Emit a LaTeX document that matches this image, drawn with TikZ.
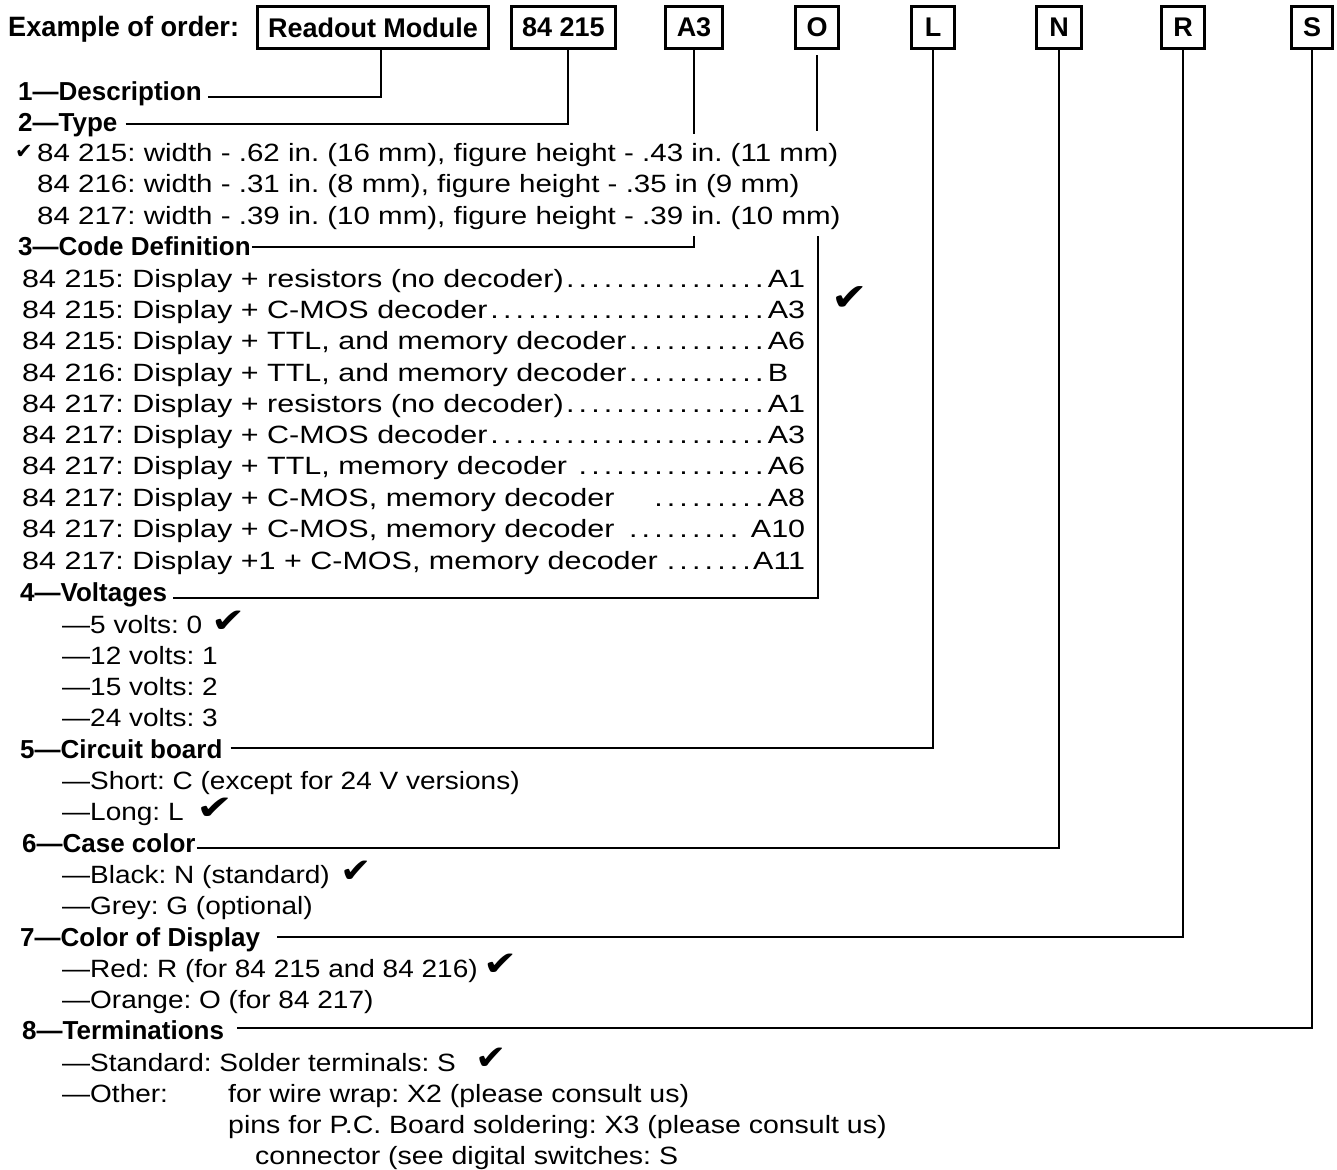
\documentclass[tikz,border=0pt]{standalone}
\usepackage{fontspec}
\setmainfont{Liberation Sans}
\newfontfamily\ckfont{DejaVu Sans}
\usetikzlibrary{calc}
\frenchspacing
\newcommand\sx[2]{\scalebox{#1}[1]{#2}}
\newcommand\cdl[2]{\makebox[783pt][l]{\sx{1.22}{#1}\leaders\hbox to 12.6pt{\hss\sx{1.22}{.}\hss}\hfill\sx{1.22}{#2}}}
\begin{document}
\begin{tikzpicture}[x=1pt,y=-1pt,
  box/.style={draw, line width=3.2pt, minimum height=42pt, inner sep=0pt, font=\fontsize{27}{30}\selectfont\bfseries},
  hd/.style={anchor=base west, inner sep=0pt, font=\fontsize{26}{30}\selectfont\bfseries},
  bd/.style={anchor=base west, inner sep=0pt, font=\fontsize{25}{30}\selectfont},
  tick/.style={inner sep=0pt, font=\ckfont\fontsize{34}{34}\selectfont},
  conn/.style={line width=2.8pt}]
\fill[white] (0,0) rectangle (1337,1169);
\useasboundingbox (0,0) rectangle (1337,1169);
% top row
\node[anchor=base west, inner sep=0pt, font=\fontsize{28}{30}\selectfont\bfseries] (ex) at (8,37) {\sx{0.97}{Example of order:}};
\node[box, minimum width=231pt] (rm) at (373,27.5) {Readout Module};
\node[box, minimum width=104pt] (ty) at (563.5,27.5) {84 215};
\node[box, minimum width=57pt] (a3) at (694,27.5) {A3};
\node[box, minimum width=43pt] (o) at (817,27.5) {O};
\node[box, minimum width=43pt] (l) at (933,27.5) {L};
\node[box, minimum width=45pt] (n) at (1059,27.5) {N};
\node[box, minimum width=43pt] (r) at (1183,27.5) {R};
\node[box, minimum width=41pt] (s) at (1312,27.5) {S};
% headings
\node[hd] (h1) at (18,101) {1—Description};
\node[hd] (h2) at (18,132) {2—Type};
\node[hd] (h3) at (18,255) {3—Code Definition};
\node[hd] (h4) at (20,601) {4—Voltages};
\node[hd] (h5) at (20,758) {5—Circuit board};
\node[hd] (h6) at (22,852) {6—Case color};
\node[hd] (h7) at (20,946) {7—Color of Display};
\node[hd] (h8) at (22,1039) {8—Terminations};
% type lines
\node[bd] (t1) at (37,162) {\sx{1.18}{84 215: width - .62 in. (16 mm), figure height - .43 in. (11 mm)}};
\node[bd] (t2) at (37,193) {\sx{1.18}{84 216: width - .31 in. (8 mm), figure height - .35 in (9 mm)}};
\node[bd] (t3) at (37,224) {\sx{1.18}{84 217: width - .39 in. (10 mm), figure height - .39 in. (10 mm)}};
% code lines
\node[bd] (c1) at (22,287) {\cdl{84 215: Display + resistors (no decoder)}{A1}};
\node[bd] (c2) at (22,318) {\cdl{84 215: Display + C-MOS decoder}{A3}};
\node[bd] (c3) at (22,349) {\cdl{84 215: Display + TTL, and memory decoder}{A6}};
\node[bd] (c4) at (22,381) {\cdl{84 216: Display + TTL, and memory decoder}{\rlap{B}\phantom{A1}}};
\node[bd] (c5) at (22,412) {\cdl{84 217: Display + resistors (no decoder)}{A1}};
\node[bd] (c6) at (22,443) {\cdl{84 217: Display + C-MOS decoder}{A3}};
\node[bd] (c7) at (22,474) {\cdl{84 217: Display + TTL, memory decoder}{A6}};
\node[bd] (c8) at (22,506) {\cdl{84 217: Display + C-MOS, memory decoder\quad}{A8}};
\node[bd] (c9) at (22,537) {\cdl{84 217: Display + C-MOS, memory decoder}{A10}};
\node[bd] (c10) at (22,569) {\cdl{84 217: Display +1 + C-MOS, memory decoder}{A11}};
% voltages
\node[bd] (v1) at (62,633) {\sx{1.12}{—5 volts: 0}};
\node[bd] (v2) at (62,664) {\sx{1.12}{—12 volts: 1}};
\node[bd] (v3) at (62,695) {\sx{1.12}{—15 volts: 2}};
\node[bd] (v4) at (62,726) {\sx{1.12}{—24 volts: 3}};
% circuit board
\node[bd] (b1) at (62,789) {\sx{1.12}{—Short: C (except for 24 V versions)}};
\node[bd] (b2) at (62,820) {\sx{1.12}{—Long: L}};
% case color
\node[bd] (k1) at (62,883) {\sx{1.12}{—Black: N (standard)}};
\node[bd] (k2) at (62,914) {\sx{1.12}{—Grey: G (optional)}};
% display color
\node[bd] (d1) at (62,977) {\sx{1.12}{—Red: R (for 84 215 and 84 216)}};
\node[bd] (d2) at (62,1008) {\sx{1.12}{—Orange: O (for 84 217)}};
% terminations
\node[bd] (e1) at (62,1071) {\sx{1.12}{—Standard: Solder terminals: S}};
\node[bd] (e2) at (62,1102) {\sx{1.12}{—Other:}};
\node[bd] (e3) at (228,1102) {\sx{1.14}{for wire wrap: X2 (please consult us)}};
\node[bd] (e4) at (228,1133) {\sx{1.14}{pins for P.C. Board soldering: X3 (please consult us)}};
\node[bd] (e5) at (255,1164) {\sx{1.14}{connector (see digital switches: S}};
% check marks
\node[tick, font=\ckfont\fontsize{21}{21}\selectfont] (ck1) at (24,152) {✔};
\node[tick, font=\ckfont\fontsize{38}{38}\selectfont] (ck2) at (850,299) {\sx{1.15}{✔}};
\node[tick] (ck3) at (229,622) {\sx{1.2}{✔}};
\node[tick] (ck4) at (215,809) {\sx{1.3}{✔}};
\node[tick] (ck5) at (356,872) {\sx{1.1}{✔}};
\node[tick] (ck6) at (501,965) {\sx{1.2}{✔}};
\node[tick] (ck7) at (491,1059) {\sx{1.1}{✔}};
% connectors
\draw[conn] ([shift={(6,-4)}]h1.base east) -| ([xshift=8pt]rm.south);
\draw[conn] ([shift={(8,-8)}]h2.base east) -| ([xshift=4.5pt]ty.south);
\draw[conn] (a3.south) -- ++(0,84);
\draw[conn] ([shift={(1,-8)}]h3.base east) -| ([yshift=-186pt]a3.south);
\draw[conn] ([yshift=-5pt]o.south) -- ++(0,76);
\draw[conn] ([shift={(6,-3)}]h4.base east) -| ([shift={(1pt,-186pt)}]o.south);
\draw[conn] ([shift={(8,-10)}]h5.base east) -| (l.south);
\draw[conn] ([shift={(1,-4)}]h6.base east) -| (n.south);
\draw[conn] ([shift={(17,-9)}]h7.base east) -| (r.south);
\draw[conn] ([shift={(13,-11)}]h8.base east) -| (s.south);
\end{tikzpicture}
\end{document}
